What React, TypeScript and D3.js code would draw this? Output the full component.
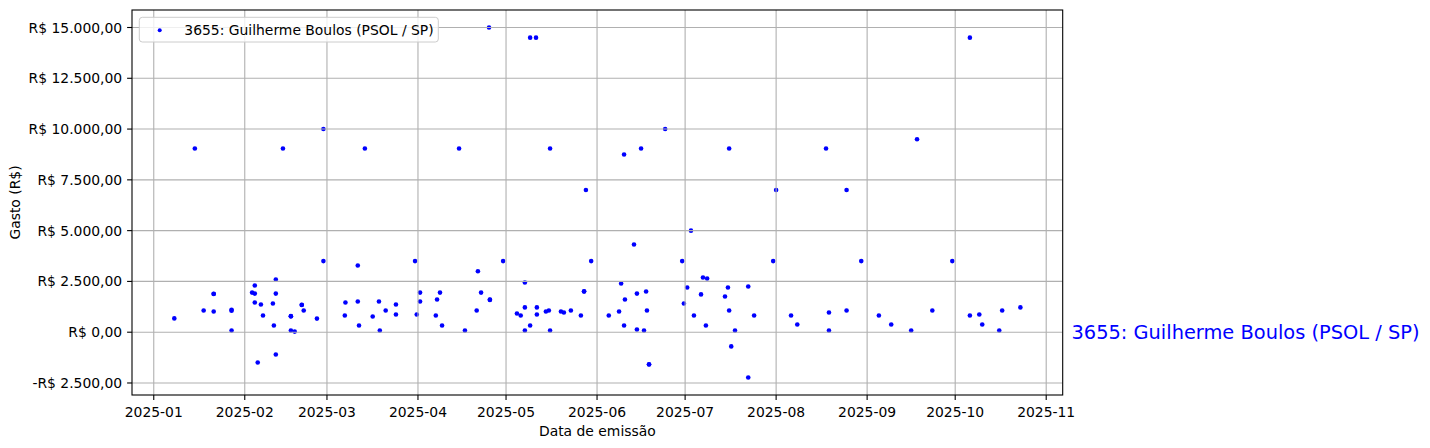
import React from 'react';
import * as d3 from 'd3';

const seriesLabel = '3655: Guilherme Boulos (PSOL / SP)';
const xAxisLabel = 'Data de emissão';
const yAxisLabel = 'Gasto (R$)';

// emission dates ("YYYY-MM-DD" or "YYYY-MM-DD HH")
const emissionDates: string[] = [
  '2025-01-08', '2025-01-15', '2025-01-18', '2025-01-21 10', '2025-01-21 10', '2025-01-21 10',
  '2025-01-27 12', '2025-01-27 12', '2025-01-27 12',
  '2025-02-03 12', '2025-02-04 10', '2025-02-04 10', '2025-02-04 10', '2025-02-05 10', '2025-02-06 12',
  '2025-02-07 05', '2025-02-10 14', '2025-02-10 22', '2025-02-11 14', '2025-02-11 14', '2025-02-11 14',
  '2025-02-14', '2025-02-16 17', '2025-02-16 17', '2025-02-16 17', '2025-02-18', '2025-02-20 10',
  '2025-02-20 10', '2025-02-21 02', '2025-02-25 14', '2025-02-27 19', '2025-02-27 19',
  '2025-03-07 02', '2025-03-07 07', '2025-03-11 12', '2025-03-11 12', '2025-03-11 22', '2025-03-13 22',
  '2025-03-16 14', '2025-03-18 17', '2025-03-19', '2025-03-21', '2025-03-24 12', '2025-03-24 12',
  '2025-03-31', '2025-03-31 14',
  '2025-04-01 17', '2025-04-01 17', '2025-04-07 02', '2025-04-07 12', '2025-04-08 12', '2025-04-09 05',
  '2025-04-15', '2025-04-17', '2025-04-21', '2025-04-21 10', '2025-04-22 12', '2025-04-25 05',
  '2025-04-25 12', '2025-04-25 12', '2025-04-30',
  '2025-05-04 17', '2025-05-06', '2025-05-07 10', '2025-05-07 10', '2025-05-07 10', '2025-05-09 05',
  '2025-05-09 05', '2025-05-11 05', '2025-05-11 12', '2025-05-11 12', '2025-05-14 14', '2025-05-15 14',
  '2025-05-16', '2025-05-16', '2025-05-19 17', '2025-05-20 17', '2025-05-23 02', '2025-05-26 12',
  '2025-05-27 14', '2025-05-27 14', '2025-05-28 05', '2025-05-30',
  '2025-06-05', '2025-06-08 12', '2025-06-09 05', '2025-06-10 05', '2025-06-10 05', '2025-06-10 12',
  '2025-06-13 14', '2025-06-14 14', '2025-06-14 14', '2025-06-16', '2025-06-17', '2025-06-17 17',
  '2025-06-18', '2025-06-18 17', '2025-06-18 17', '2025-06-24 05', '2025-06-30', '2025-06-30 14',
  '2025-07-01 17', '2025-07-03', '2025-07-04', '2025-07-06 10', '2025-07-07 02', '2025-07-08 12',
  '2025-07-08 02', '2025-07-14 14', '2025-07-15 14', '2025-07-16', '2025-07-16', '2025-07-16 17',
  '2025-07-18', '2025-07-22 12', '2025-07-22 12', '2025-07-24 12', '2025-07-31',
  '2025-08-01', '2025-08-06 02', '2025-08-08 05', '2025-08-18', '2025-08-19', '2025-08-19',
  '2025-08-25', '2025-08-25', '2025-08-30',
  '2025-09-05', '2025-09-09 05', '2025-09-16', '2025-09-18', '2025-09-23 05', '2025-09-30',
  '2025-10-06', '2025-10-06', '2025-10-09 05', '2025-10-10 05', '2025-10-16', '2025-10-17', '2025-10-23 05',
];

// amounts in R$
const amounts: number[] = [
  680, 9040, 1070, 1890, 1880, 1020,
  1100, 1060, 80,
  1950, 2300, 1900, 1460, -1490, 1360,
  820, 1410, 330, 2590, 1900, -1100,
  9040, 790, 780, 80, 30, 1350,
  1340, 1070, 670, 10000, 3500,
  820, 1460, 3280, 1510, 330, 9040,
  770, 1510, 80, 1070, 1360, 870,
  3500, 870,
  1950, 1510, 820, 1610, 1950, 330,
  9040, 80, 1070, 3000, 1950, 15000,
  1610, 1590, 3500,
  920, 820, 2450, 1220, 80, 14500,
  330, 14500, 1220, 870, 1020, 1070,
  9040, 80, 1020, 970, 1070, 820,
  2000, 2010, 7000, 3500,
  820, 1020, 2400, 8750, 330, 1610,
  4320, 1900, 130, 9040, 80, 2000,
  1070, -1590, -1580, 10000, 3500, 1410,
  2200, 5000, 820, 1860, 2690, 2640,
  330, 1760, 2200, 9040, 1070, -700,
  80, 2250, -2230, 820, 3500,
  7000, 820, 380, 9040, 970, 80,
  7000, 1070, 3500,
  820, 380, 80, 9500, 1070, 3500,
  14500, 820, 870, 380, 80, 1070, 1220,
];

const yTickValues: number[] = [-2500, 0, 2500, 5000, 7500, 10000, 12500, 15000];
const xTickMonths: string[] = [
  '2025-01', '2025-02', '2025-03', '2025-04', '2025-05', '2025-06',
  '2025-07', '2025-08', '2025-09', '2025-10', '2025-11',
];

function parseDate(s: string): Date {
  const [d, h] = s.split(' ');
  const [y, m, day] = d.split('-').map(Number);
  return new Date(y, m - 1, day || 1, h ? Number(h) : 0);
}

function formatBRL(v: number): string {
  const sign = v < 0 ? '-' : '';
  const abs = Math.abs(v);
  const intPart = Math.floor(abs).toString().replace(/\B(?=(\d{3})+(?!\d))/g, '.');
  return `${sign}R$ ${intPart},00`;
}

const W = 1430;
const H = 448;
const L = 132;
const R = 1062.7;
const T = 10;
const B = 395;
const FONT = 'DejaVu Sans, sans-serif';

export default function App() {
  const points = emissionDates.map((d, i) => ({ date: parseDate(d), value: amounts[i] }));
  const [tMin, tMax] = d3.extent(points, (p) => p.date.getTime()) as [number, number];
  const tPad = (tMax - tMin) * 0.05;
  const [vMin, vMax] = d3.extent(points, (p) => p.value) as [number, number];
  const vPad = (vMax - vMin) * 0.05;

  const x = d3.scaleTime().domain([new Date(tMin - tPad), new Date(tMax + tPad)]).range([L, R]);
  const y = d3.scaleLinear().domain([vMin - vPad, vMax + vPad]).range([B, T]);

  const xTicks = xTickMonths.map((m) => ({ label: m, date: parseDate(m) }));
  const gridColor = '#b0b0b0';

  return (
    <svg
      width={W}
      height={H}
      style={{ position: 'absolute', left: 0, top: 0, display: 'block', background: '#fff' }}
      fontFamily={FONT}
    >
      <rect x={0} y={0} width={W} height={H} fill="#fff" />
      {/* points (drawn below the grid, as in matplotlib's default z-order) */}
      <g fill="#0000ff">
        {points.map((p, i) => (
          <circle key={i} cx={x(p.date)} cy={y(p.value)} r={2.3} />
        ))}
      </g>
      {/* grid */}
      <g stroke={gridColor} strokeWidth={1.1}>
        {xTicks.map((t) => (
          <line key={t.label} x1={x(t.date)} x2={x(t.date)} y1={T} y2={B} />
        ))}
        {yTickValues.map((v) => (
          <line key={v} x1={L} x2={R} y1={y(v)} y2={y(v)} />
        ))}
      </g>
      {/* frame */}
      <rect x={L} y={T} width={R - L} height={B - T} fill="none" stroke="#000" strokeWidth={1.1} />
      {/* y axis */}
      <g fontSize={13.9} fill="#000">
        {yTickValues.map((v) => (
          <g key={v}>
            <line x1={L - 4.9} x2={L} y1={y(v)} y2={y(v)} stroke="#000" strokeWidth={1.1} />
            <text x={L - 9.8} y={y(v)} textAnchor="end" dominantBaseline="central">
              {formatBRL(v)}
            </text>
          </g>
        ))}
      </g>
      {/* x axis */}
      <g fontSize={13.9} fill="#000">
        {xTicks.map((t) => (
          <g key={t.label}>
            <line x1={x(t.date)} x2={x(t.date)} y1={B} y2={B + 4.9} stroke="#000" strokeWidth={1.1} />
            <text x={x(t.date)} y={B + 21.5} textAnchor="middle">
              {t.label}
            </text>
          </g>
        ))}
      </g>
      <text x={(L + R) / 2} y={436} textAnchor="middle" fontSize={13.9}>
        {xAxisLabel}
      </text>
      <text
        transform={`translate(20, ${(T + B) / 2}) rotate(-90)`}
        textAnchor="middle"
        fontSize={13.9}
      >
        {yAxisLabel}
      </text>
      {/* legend */}
      <rect x={139.3} y={17.3} width={299} height={24.7} rx={3} ry={3} fill="#fff" fillOpacity={0.8} stroke="#cccccc" strokeWidth={1} />
      <circle cx={159.7} cy={30.3} r={2} fill="#0000ff" />
      <text x={184.3} y={30.3} dominantBaseline="central" fontSize={13.9}>
        {seriesLabel}
      </text>
      {/* end label */}
      <text x={1071.5} y={y(0)} dominantBaseline="central" fontSize={19.4} fill="#0000ff">
        {seriesLabel}
      </text>
    </svg>
  );
}
